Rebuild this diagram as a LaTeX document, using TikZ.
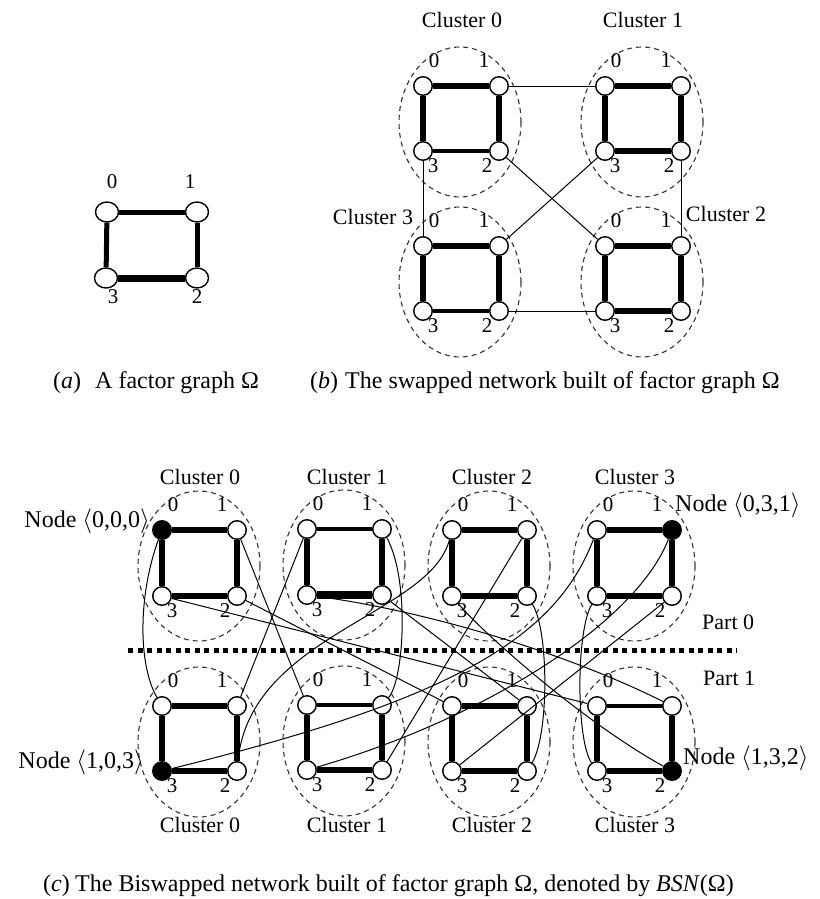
\documentclass[tikz,border=0pt]{standalone}
\usepackage{fontspec}
\setmainfont{Liberation Serif}
\usetikzlibrary{shapes.geometric}
\def\setfills#1,#2,#3,#4\relax{\def\fA{#1}\def\fB{#2}\def\fC{#3}\def\fD{#4}}
\def\cw{75}\def\ch{66}
% #1 name, #2 x, #3 y, #4 w01, #5 w12, #6 w32, #7 w03, #8 fills
\newcommand\mkcluster[8]{%
  \setfills#8\relax
  \draw[clus] ({#2+37},{#3+36}) ellipse [x radius=61pt, y radius=75pt];
  \node[vtx,fill=\fA] (#1-0) at (#2,#3) {};
  \node[vtx,fill=\fB] (#1-1) at ({#2+\cw},#3) {};
  \node[vtx,fill=\fC] (#1-2) at ({#2+\cw},{#3+\ch}) {};
  \node[vtx,fill=\fD] (#1-3) at (#2,{#3+\ch}) {};
  \draw[line width=1.3*#4pt] (#1-0) -- (#1-1);
  \draw[line width=1.3*#5pt] (#1-1) -- (#1-2);
  \draw[line width=1.3*#6pt] (#1-3) -- (#1-2);
  \draw[line width=1.3*#7pt] (#1-0) -- (#1-3);
  \node[dig] (#1-l0) at ({#2+11},{#3-25}) {0};
  \node[dig] (#1-l1) at ({#2+\cw-15},{#3-25}) {1};
  \node[dig] (#1-l3) at ({#2+10},{#3+\ch+15}) {3};
  \node[dig] (#1-l2) at ({#2+\cw-12},{#3+\ch+15}) {2};
}
\begin{document}
\begin{tikzpicture}[x=1pt,y=-1pt,
  vtx/.style={circle, draw, line width=1.4pt, fill=white, minimum size=18.5pt, inner sep=0pt},
  avtx/.style={ellipse, draw, line width=1.4pt, fill=white, minimum width=23pt, minimum height=20pt, inner sep=0pt},
  link/.style={line width=1pt},
  clus/.style={dash pattern=on 5pt off 4pt, line width=1.1pt, black!80},
  dig/.style={font=\fontsize{21}{24}\selectfont, inner sep=0pt},
  clab/.style={font=\fontsize{22}{26}\selectfont, inner sep=0pt},
  nlab/.style={font=\fontsize{24}{28}\selectfont, inner sep=0pt},
  captext/.style={font=\fontsize{24}{28}\selectfont, inner sep=0pt, anchor=base west},
  dotline/.style={line width=5pt, dash pattern=on 5pt off 4.5pt}
]
\useasboundingbox (0,0) rectangle (819,899);

% ---------- (a) factor graph ----------
\node[avtx] (a0) at (107,212) {};
\node[avtx] (a1) at (197,212) {};
\node[avtx] (a2) at (197,278) {};
\node[avtx] (a3) at (106,278) {};
\draw[line width=5pt] (a0) -- (a1);
\draw[line width=5pt] (a1) -- (a2);
\draw[line width=7pt] (a3) -- (a2);
\draw[line width=5pt] (a0) -- (a3);
\node[dig] (al0) at (112,182) {0};
\node[dig] (al1) at (190,182) {1};
\node[dig] (al3) at (113,297) {3};
\node[dig] (al2) at (197,297) {2};

% ---------- (b) swapped network ----------
\def\cw{76}\def\ch{65}
\mkcluster{b0}{423}{86}{4}{4.5}{3.5}{5}{white,white,white,white}
\mkcluster{b1}{605}{86}{5}{4}{4}{5}{white,white,white,white}
\mkcluster{b3}{423}{246}{5}{4}{3.5}{4.5}{white,white,white,white}
\mkcluster{b2}{605}{246}{4}{4.5}{5}{4.5}{white,white,white,white}
\draw[link] (b0-1) -- (b1-0);
\draw[link] (b0-3) -- (b3-0);
\draw[link] (b0-2) -- (b2-0);
\draw[link] (b1-3) -- (b3-1);
\draw[link] (b1-2) -- (b2-1);
\draw[link] (b3-2) -- (b2-3);
\node[clab] (bc0) at (462,20) {Cluster 0};
\node[clab] (bc1) at (643,20) {Cluster 1};
\node[clab] (bc3) at (373,217) {Cluster 3};
\node[clab] (bc2) at (726,214) {Cluster 2};

% ---------- (c) biswapped network ----------
\def\cw{75}\def\ch{66}
\mkcluster{p0c0}{162}{530}{5}{4}{4}{5}{black,white,white,white}
\mkcluster{p0c1}{307}{529}{3.5}{4}{6}{4}{white,white,white,white}
\mkcluster{p0c2}{452}{530}{4}{4}{4}{4.5}{white,white,white,white}
\mkcluster{p0c3}{597}{530}{4}{4}{5}{4}{white,black,white,white}
\def\ch{65}
\mkcluster{p1c0}{162}{706}{4}{5}{4}{5}{white,white,white,black}
\mkcluster{p1c1}{307}{705}{3.5}{5}{5}{4}{white,white,white,white}
\mkcluster{p1c2}{452}{706}{5}{5}{4}{4}{white,white,white,white}
\mkcluster{p1c3}{597}{706}{3.5}{4}{4}{5}{white,white,black,white}

\coordinate (dl) at (128,650);
\coordinate (dr) at (737,650);
\draw[dotline] (dl) -- (dr);

% inter-part links <0,g,p> -- <1,p,g>
\draw[link] (p0c0-0) .. controls (138,595) and (138,665) .. (p1c0-0);
\draw[link] (p0c0-1) -- (p1c1-0);
\draw[link] (p0c0-2) -- (p1c2-0);
\draw[link] (p0c0-3) -- (p1c3-0);
\draw[link] (p0c1-0) -- (p1c0-1);
\draw[link] (p0c1-1) .. controls (410,580) and (404,680) .. (p1c1-1);
\draw[link] (p0c1-2) -- (p1c2-1);
\draw[link] (p0c1-3) .. controls (420,610) and (560,650) .. (p1c3-1);
\draw[link] (p0c2-0) .. controls (430,615) and (250,635) .. (p1c0-2);
\draw[link] (p0c2-1) -- (p1c1-2);
\draw[link] (p0c2-2) .. controls (549,630) and (549,735) .. (p1c2-2);
\draw[link] (p0c2-3) .. controls (480,630) and (580,720) .. (p1c3-2);
\draw[link] (p0c3-0) .. controls (555,640) and (450,700) .. (p1c0-3);
\draw[link] (p0c3-1) .. controls (635,625) and (480,720) .. (p1c1-3);
\draw[link] (p0c3-2) -- (p1c2-3);
\draw[link] (p0c3-3) .. controls (576,630) and (576,740) .. (p1c3-3);

\node[clab] (ct0) at (200,477) {Cluster 0};
\node[clab] (ct1) at (347,477) {Cluster 1};
\node[clab] (ct2) at (492,477) {Cluster 2};
\node[clab] (ct3) at (635,477) {Cluster 3};
\node[clab] (cb0) at (200,825) {Cluster 0};
\node[clab] (cb1) at (347,825) {Cluster 1};
\node[clab] (cb2) at (492,825) {Cluster 2};
\node[clab] (cb3) at (635,825) {Cluster 3};

\node[nlab,anchor=east] (n000) at (150,521) {Node $\langle$0,0,0$\rangle$};
\node[nlab,anchor=west] (n031) at (675,505) {Node $\langle$0,3,1$\rangle$};
\node[nlab,anchor=east] (n103) at (144,762) {Node $\langle$1,0,3$\rangle$};
\node[nlab,anchor=west] (n132) at (683,758) {Node $\langle$1,3,2$\rangle$};

\node[clab,anchor=west] (part0) at (702,622) {Part 0};
\node[clab,anchor=west] (part1) at (703,678) {Part 1};

% ---------- captions ----------
\node[captext] (capa1) at (53,388) {(\textit{a})};
\node[captext] (capa2) at (95,388) {A factor graph Ω};
\node[captext] (capb1) at (310,388) {(\textit{b})};
\node[captext] (capb2) at (345,388) {The swapped network built of factor graph Ω};
\node[captext] (capc1) at (43,891) {(\textit{c})};
\node[captext] (capc2) at (75,891) {The Biswapped network built of factor graph Ω, denoted by \textit{BSN}(Ω)};
\end{tikzpicture}
\end{document}
